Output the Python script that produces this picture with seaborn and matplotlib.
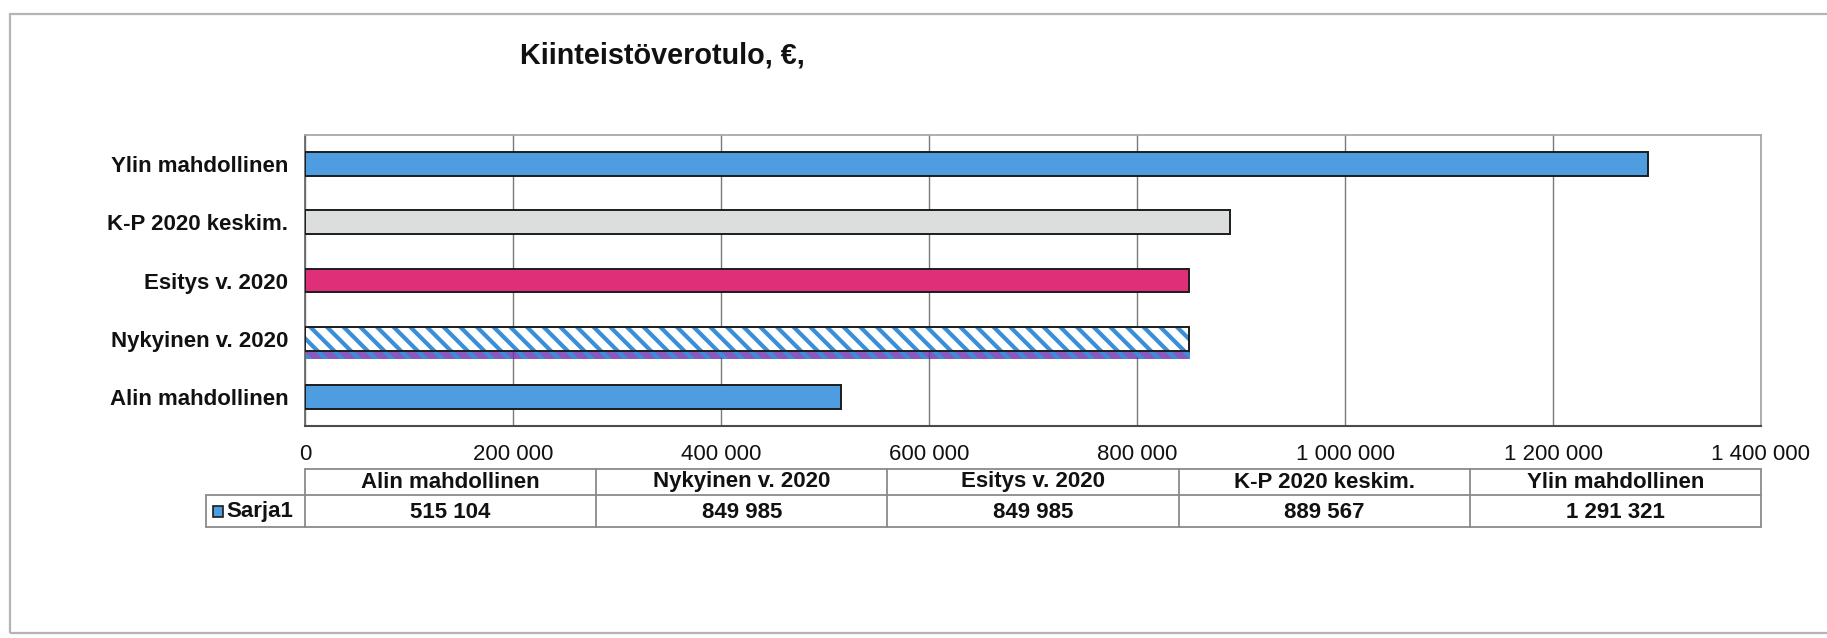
import matplotlib
matplotlib.use("Agg")
import matplotlib.pyplot as plt
import matplotlib.patheffects as pe
from matplotlib.patches import Rectangle
from matplotlib.lines import Line2D
from matplotlib.colors import to_rgba
import seaborn as sns
import pandas as pd

# ---------------- data ----------------
title = "Kiinteistöverotulo, €,"
categories = ["Alin mahdollinen", "Nykyinen v. 2020", "Esitys v. 2020",
              "K-P 2020 keskim.", "Ylin mahdollinen"]
values = [515104, 849985, 849985, 889567, 1291321]
series_name = "Sarja1"
x_ticks = [0, 200000, 400000, 600000, 800000, 1000000, 1200000, 1400000]
x_tick_labels = ["0", "200 000", "400 000", "600 000", "800 000",
                 "1 000 000", "1 200 000", "1 400 000"]
bar_colors = {
    "Alin mahdollinen": "#4d9de0",
    "Nykyinen v. 2020": "#ffffff",
    "Esitys v. 2020": "#de2f78",
    "K-P 2020 keskim.": "#dcdddd",
    "Ylin mahdollinen": "#4d9de0",
}
hatch_color = "#3a8fd8"
shadow_color = "#6a30b0"

# ---------------- style ----------------
sns.set_style("white")
plt.rcParams["font.family"] = ["Liberation Sans", "DejaVu Sans"]
plt.rcParams["hatch.linewidth"] = 3.0

W, H = 1827, 638
fig = plt.figure(figsize=(W / 100, H / 100), dpi=100)
fig.patch.set_facecolor("white")

AX_L, AX_R, AX_T, AX_B = 305, 1761, 135, 426
ax = fig.add_axes([AX_L / W, 1 - AX_B / H, (AX_R - AX_L) / W, (AX_B - AX_T) / H])

df = pd.DataFrame({"category": categories, "value": values})
order = categories[::-1]  # top to bottom as in the chart

sns.barplot(data=df, x="value", y="category", hue="category", order=order,
            hue_order=order, palette=bar_colors, saturation=1, width=0.41,
            edgecolor="#1c1c1c", linewidth=1.4, legend=False, ax=ax, zorder=3)

# hatch + shadow on "Nykyinen v. 2020"
nyk_idx = order.index("Nykyinen v. 2020")
for p in ax.patches:
    yc = p.get_y() + p.get_height() / 2
    if abs(yc - nyk_idx) < 0.3:
        p.set_hatch("\\\\")
        if hasattr(p, "set_hatchcolor"):
            p.set_hatchcolor(hatch_color)
        else:
            p._hatch_color = to_rgba(hatch_color)
        p.set_path_effects([
            pe.SimplePatchShadow(offset=(0.5, -6), shadow_rgbFace=shadow_color, alpha=0.8),
            pe.Normal(),
        ])

# axes
ax.set_xlim(0, 1400000)
ax.set_ylim(len(order) - 0.5, -0.5)
ax.set_xticks(x_ticks)
ax.set_xticklabels(x_tick_labels, fontsize=16, color="#111111")
ax.set_yticks(range(len(order)))
ax.set_yticklabels(order, fontsize=16, fontweight="bold", color="#111111")
ax.set_yticks([i - 0.5 for i in range(len(order) + 1)], minor=True)
ax.tick_params(axis="y", which="major", length=0, pad=12)
ax.tick_params(axis="y", which="minor", length=4, width=1, color="#808080", direction="out")
ax.tick_params(axis="x", which="major", length=4, width=1, color="#808080", pad=9)
ax.set_xlabel("")
ax.set_ylabel("")
ax.grid(axis="x", color="#7a7a7a", linewidth=1.0, zorder=0)
ax.grid(axis="y", visible=False)
ax.set_axisbelow(True)
for side in ["top", "right"]:
    ax.spines[side].set_color("#a8a8a8")
    ax.spines[side].set_linewidth(1.3)
ax.spines["left"].set_color("#6a6a6a")
ax.spines["left"].set_linewidth(1.3)
ax.spines["bottom"].set_color("#4a4a4a")
ax.spines["bottom"].set_linewidth(1.5)

# ---------------- data table below the axis ----------------
axw = AX_R - AX_L
axh = AX_B - AX_T
def fx(xp):
    return (xp - AX_L) / axw
def fy(yp):
    return (AX_B - yp) / axh

tbl_top, tbl_mid, tbl_bot = 469, 495, 527
leg_left = 206
line_kw = dict(color="#8a8a8a", linewidth=1.3, transform=ax.transAxes, clip_on=False)
ax.add_line(Line2D([0, 1], [fy(tbl_top)] * 2, **line_kw))
ax.add_line(Line2D([fx(leg_left), 1], [fy(tbl_mid)] * 2, **line_kw))
ax.add_line(Line2D([fx(leg_left), 1], [fy(tbl_bot)] * 2, **line_kw))
ax.add_line(Line2D([fx(leg_left)] * 2, [fy(tbl_mid), fy(tbl_bot)], **line_kw))
n = len(categories)
for i in range(n + 1):
    ax.add_line(Line2D([i / n] * 2, [fy(tbl_top), fy(tbl_bot)], **line_kw))

def fmt(v):
    return f"{v:,}".replace(",", " ")

for i, (c, v) in enumerate(zip(categories, values)):
    xc = (i + 0.5) / n
    ax.text(xc, fy((tbl_top + tbl_mid) / 2), c, transform=ax.transAxes,
            ha="center", va="center", fontsize=16, fontweight="bold", color="#111111")
    ax.text(xc, fy((tbl_mid + tbl_bot) / 2 + 1), fmt(v), transform=ax.transAxes,
            ha="center", va="center", fontsize=16, fontweight="bold", color="#111111")

# legend key + series name
ax.add_patch(Rectangle((fx(213), fy(517)), fx(223) - fx(213), fy(506) - fy(517),
                       transform=ax.transAxes, clip_on=False,
                       facecolor=bar_colors["Alin mahdollinen"], edgecolor="#1c1c1c",
                       linewidth=1.2))
ax.text(fx(226), fy(512), series_name, transform=ax.transAxes, ha="left",
        va="center", fontsize=16, fontweight="bold", color="#111111")

# ---------------- title ----------------
fig.text(520 / W, 1 - 56 / H, title, ha="left", va="center", fontsize=20.7,
         fontweight="bold", color="#111111")

# ---------------- outer frame ----------------
fig.add_artist(Rectangle((10 / W, 5 / H), 1.2, (633 - 14) / H,
                         transform=fig.transFigure, facecolor="none",
                         edgecolor="#b4b4b4", linewidth=1.6))

fig.savefig("out.png", dpi=100)
